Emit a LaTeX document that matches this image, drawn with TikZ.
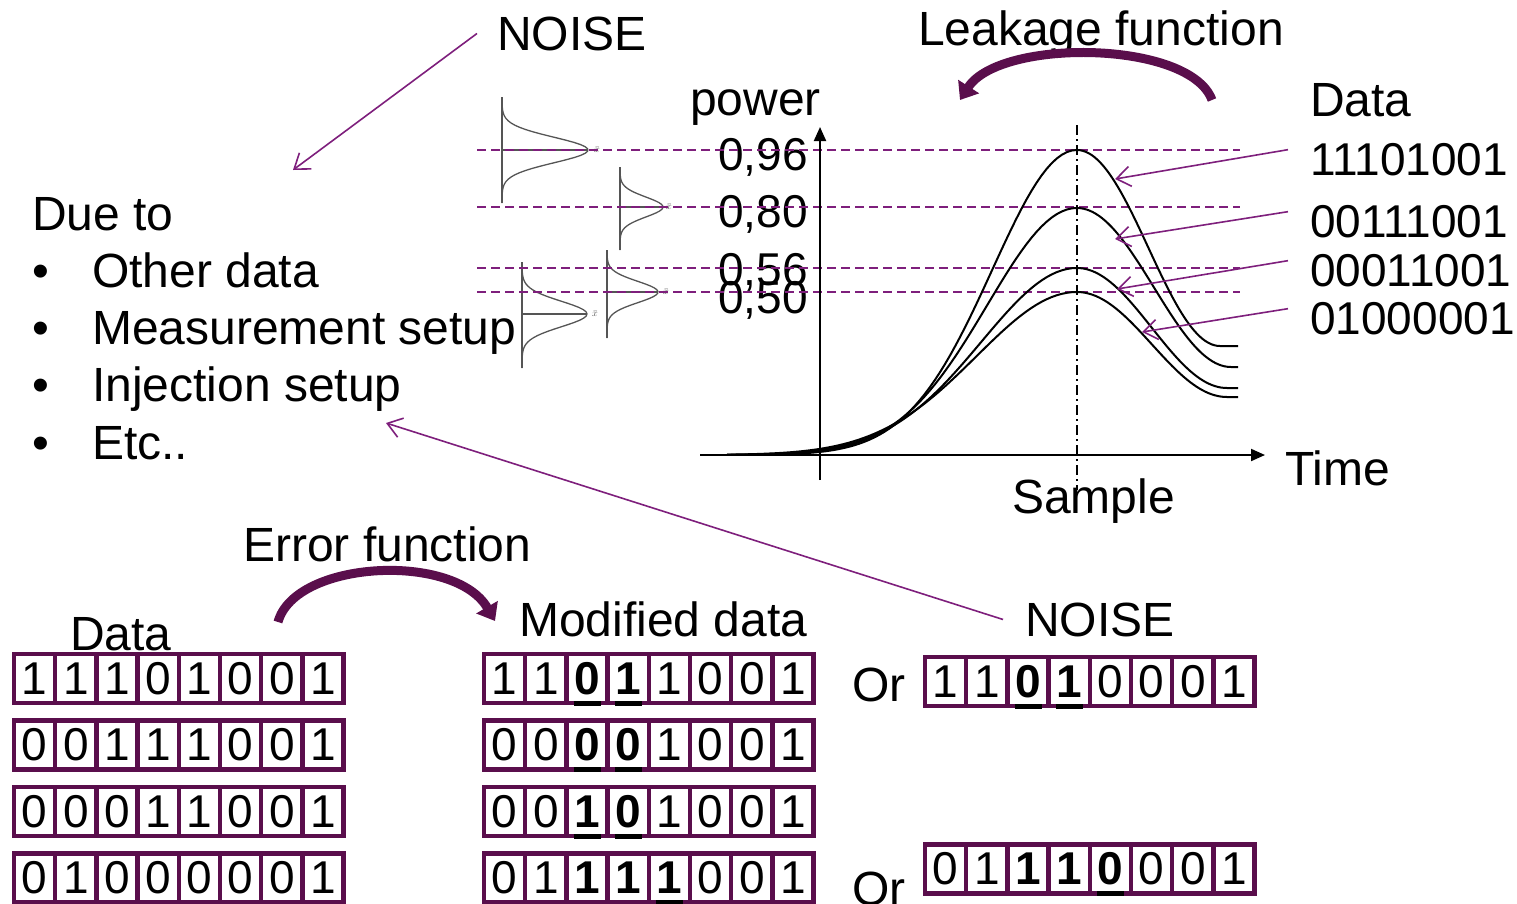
\documentclass[tikz,border=0pt]{standalone}
\usepackage{fontspec}
\setmainfont{Liberation Sans}
\usepackage{tikz}
\usetikzlibrary{arrows.meta}
\definecolor{plumdark}{HTML}{5A0E4C}
\definecolor{plumline}{HTML}{7E1F7C}
\definecolor{gaussgrey}{HTML}{555555}
\newcommand{\bigfont}{\fontsize{48}{56}\selectfont}
\newcommand{\midfont}{\fontsize{46}{54}\selectfont}
\newcommand{\tinyfont}{\fontsize{10}{11}\selectfont}
\newcommand{\bb}[1]{\textbf{#1}}
% one row of eight bit cells
\newcommand{\bitrow}[4]{%
  \foreach \b [count=\i] in {#4}
    \node[cell] (#1-\i) at ({#2+(\i-1)*41.2}, #3) {\b};
}
% side-ways gaussian of the noise
\newcommand{\gausscurve}[6]{%
  \draw[gauss] (#1,#2) -- (#1,#3);
  \draw[gauss] (#1,#4) -- ({#1+#5},#4);
  \draw[gauss] plot[domain=#2:#3, samples=50] ({#1+#5*exp(0-((\x-#4)/#6)^2)}, \x);
}
% power trace: peak height, end level, left spread, end of fall
\newcommand{\powercurve}[4]{%
  \draw[trace] plot[domain=727:1077, samples=70] (\x, {455-#1*exp(0-((\x-1077)/#3)^2)})
    -- plot[domain=1077:#4, samples=50] (\x, {455-#2-(#1-#2)*(1+cos(180/(#4-1077)*(\x-1077)))/2})
    -- (1238, {455-#2});
}

\begin{document}
\begin{tikzpicture}[
  x=1pt, y=-1pt,
  lbl/.style={inner sep=0pt, anchor=base west, font=\bigfont},
  cell/.style={draw=plumdark, line width=4.5pt, fill=white, minimum width=41.2pt, minimum height=49pt, inner sep=0pt, outer sep=0pt, font=\midfont},
  ubar/.style={line width=5pt, black},
  thinarr/.style={-{Straight Barb[length=14pt,width=20pt]}, plumline, line width=1.6pt},
  bigarr/.style={-{Triangle[width=24pt,length=16pt]}, plumdark, line width=9pt},
  refline/.style={plumline, line width=1.9pt, dash pattern=on 9pt off 5pt},
  axis/.style={-{Triangle[width=12pt,length=14pt]}, line width=2pt},
  trace/.style={line width=2pt},
  gauss/.style={gaussgrey, line width=1.3pt}
]
\useasboundingbox (0,0) rectangle (1517,903);

% top part: noise and leakage
\node[lbl] (noisetop) at (497,50) {NOISE};
\node[lbl] (leak) at (918,45) {Leakage function};
\node[lbl] (power) at (690,115) {power};
\node[lbl] (datatop) at (1310,116) {Data};
\node[lbl, anchor=base east, font=\midfont] (v96) at (808,170) {0,96};
\node[lbl, anchor=base east, font=\midfont] (v80) at (808,227) {0,80};
\node[lbl, anchor=base east, font=\midfont] (v56) at (808,285) {0,56};
\node[lbl, anchor=base east, font=\midfont] (v50) at (808,313) {0,50};
\node[lbl, font=\midfont] (s1) at (1310,175) {11101001};
\node[lbl, font=\midfont] (s2) at (1310,237) {00111001};
\node[lbl, font=\midfont] (s3) at (1310,286) {00011001};
\node[lbl, font=\midfont] (s4) at (1310,334) {01000001};
\node[lbl] (time) at (1285,485) {Time};
\node[lbl] (sample) at (1012,513) {Sample};

\node[lbl] (dueto) at (32,230) {Due to};
\foreach \t [count=\i] in {Other data,Measurement setup,Injection setup,Etc..} {
  \node[lbl] (bul\i) at (32,{230+57.3*\i}) {\textbullet};
  \node[lbl] (item\i) at (92,{230+57.3*\i}) {\t};
}

\gausscurve{502}{97}{203}{150}{86}{18}
\gausscurve{620}{167}{250}{207}{43}{14}
\gausscurve{522}{262}{368}{314}{65}{18}
\gausscurve{607}{250}{338}{292}{51}{15}
\node[font=\tinyfont, text=gaussgrey, inner sep=0pt] (g1) at (597,150) {$\bar{x}$};
\node[font=\tinyfont, text=gaussgrey, inner sep=0pt] (g2) at (669,207) {$\bar{x}$};
\node[font=\tinyfont, text=gaussgrey, inner sep=0pt] (g3) at (595,314) {$\bar{x}$};
\node[font=\tinyfont, text=gaussgrey, inner sep=0pt] (g4) at (666,292) {$\bar{x}$};

\foreach \y in {150,207,268,292}
  \draw[refline] (477,\y) -- (1240,\y);

\draw[axis] (700,455) -- (1265,455);
\draw[axis] (820,480) -- (820,127);
\draw[line width=1.5pt, dash pattern=on 10pt off 4pt on 2pt off 4pt] (1077,125) -- (1077,490);

\powercurve{305}{109}{120}{1220}
\powercurve{247}{88}{127}{1231}
\powercurve{187}{67}{135}{1227}
\powercurve{163}{58}{142}{1227}

\coordinate (c1) at (1115,179);
\coordinate (c2) at (1115,239);
\coordinate (c3) at (1117,289);
\coordinate (c4) at (1142,332);
\draw[thinarr] ([shift={(-22pt,9.5pt)}]s1.west) -- (c1);
\draw[thinarr] ([shift={(-22pt,9.5pt)}]s2.west) -- (c2);
\draw[thinarr] ([shift={(-22pt,9.5pt)}]s3.west) -- (c3);
\draw[thinarr] ([shift={(-22pt,9.5pt)}]s4.west) -- (c4);

\coordinate (leakfrom) at (1212,100);
\coordinate (leakto) at (960,100);
\draw[bigarr] (leakfrom) .. controls (1190,40) and (1000,38) .. (leakto);

\coordinate (duehead) at (293,170);
\draw[thinarr] ([xshift=-20pt]noisetop.west) -- (duehead);

% bottom part: error function
\node[lbl] (err) at (243,561) {Error function};
\node[lbl] (datalow) at (70,650) {Data};
\node[lbl] (moddata) at (519,636) {Modified data};
\node[lbl] (noiselow) at (1025,636) {NOISE};
\node[lbl] (or1) at (852,701) {Or};
\node[lbl] (or2) at (852,905) {Or};

\coordinate (errfrom) at (278,622);
\coordinate (errto) at (495,621);
\draw[bigarr] (errfrom) .. controls (295,560) and (455,552) .. (errto);

\coordinate (etchead) at (386,423);
\draw[thinarr] ([xshift=-22pt]noiselow.west) -- (etchead);

\bitrow{raw1}{34.6}{678.5}{1,1,1,0,1,0,0,1}
\bitrow{raw2}{34.6}{745}{0,0,1,1,1,0,0,1}
\bitrow{raw3}{34.6}{811.5}{0,0,0,1,1,0,0,1}
\bitrow{raw4}{34.6}{878}{0,1,0,0,0,0,0,1}

\bitrow{mod1}{504.6}{678.5}{1,1,\bb{0},\bb{1},1,0,0,1}
\bitrow{mod2}{504.6}{745}{0,0,\bb{0},\bb{0},1,0,0,1}
\bitrow{mod3}{504.6}{811.5}{0,0,\bb{1},\bb{0},1,0,0,1}
\bitrow{mod4}{504.6}{878}{0,1,\bb{1},\bb{1},\bb{1},0,0,1}

\bitrow{alt1}{945.6}{681.5}{1,1,\bb{0},\bb{1},0,0,0,1}
\bitrow{alt2}{945.6}{869}{0,1,\bb{1},\bb{1},\bb{0},0,0,1}

\foreach \c in {mod1-3,mod1-4,mod2-3,mod2-4,mod3-3,mod3-4,mod4-5,alt1-3,alt1-4,alt2-5}
  \draw[ubar] ([xshift=-13.5pt]\c.south) -- ([xshift=13.5pt]\c.south);
\end{tikzpicture}
\end{document}
